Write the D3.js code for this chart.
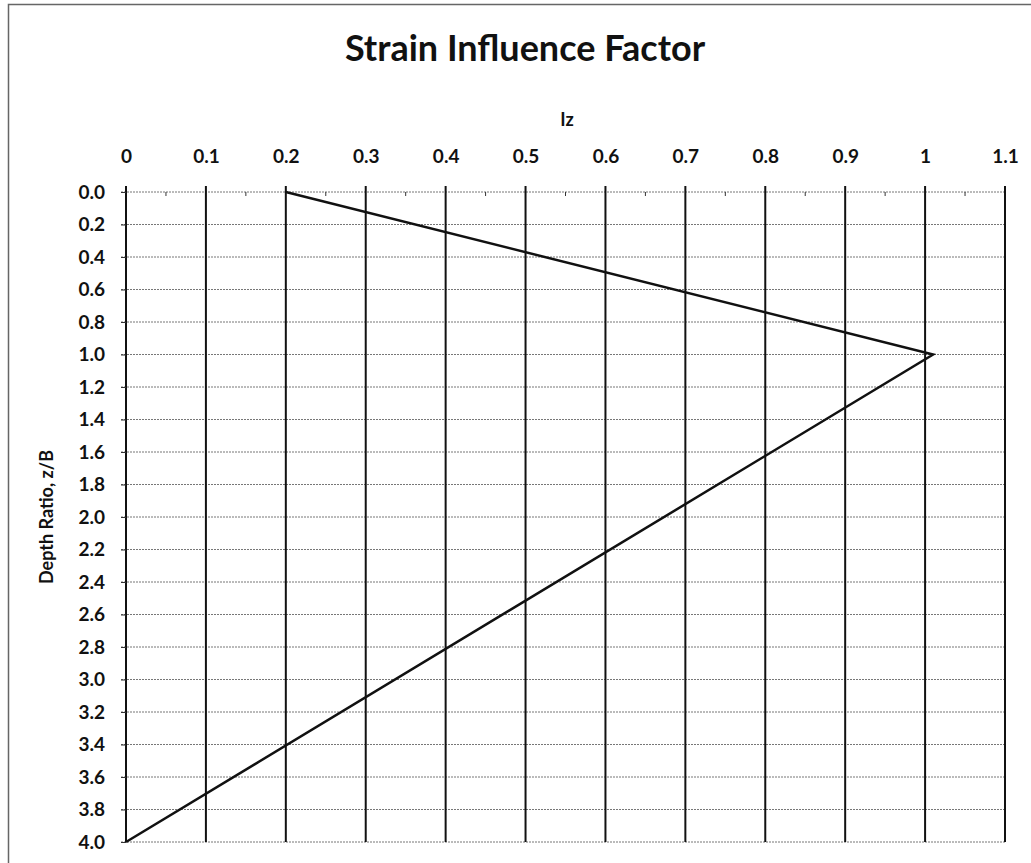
<!doctype html>
<html lang="en">
<head>
  <meta charset="utf-8">
  <title>Strain Influence Factor</title>
  <style>
    body { margin:0; background:#fff; }
    svg text { font-family: Lato, "Open Sans", sans-serif; font-weight:bold; fill:#111; }
    .vgrid { stroke:#111; stroke-width:2; }
    .hgrid { stroke:#777; stroke-width:1; stroke-dasharray:2,1; }
  </style>
</head>
<body>
<svg id="chart" width="1031" height="863"></svg>

<script src="https://cdn.jsdelivr.net/npm/d3@7"></script>
<script>
// chart data
var iz = [0.2, 1.01, 0];
var depth = [0, 1.0, 4.0];
var xTicks = [0, 0.1, 0.2, 0.3, 0.4, 0.5, 0.6, 0.7, 0.8, 0.9, 1, 1.1];
var yTicks = [0, 0.2, 0.4, 0.6, 0.8, 1.0, 1.2, 1.4, 1.6, 1.8, 2.0, 2.2, 2.4, 2.6, 2.8, 3.0, 3.2, 3.4, 3.6, 3.8, 4.0];
var xMinor = [0.05, 0.15, 0.25, 0.35, 0.45, 0.55, 0.65, 0.75, 0.85, 0.95, 1.05];

var svg = d3.select("#chart");

// outer frame
svg.append("path")
  .attr("d", "M8.5,870 V4.5 H1031")
  .attr("fill", "none")
  .attr("stroke", "#666")
  .attr("stroke-width", 1.5);

var x = d3.scaleLinear().domain([0, 1.1]).range([126, 1005]);
var y = d3.scaleLinear().domain([0, 4]).range([192, 842]);

// horizontal dotted grid
svg.append("g").selectAll("line")
  .data(yTicks)
  .join("line")
  .attr("class", "hgrid")
  .attr("x1", x(0) - 5).attr("x2", x(1.1))
  .attr("y1", d => y(d)).attr("y2", d => y(d));

// vertical solid grid
svg.append("g").selectAll("line")
  .data(xTicks)
  .join("line")
  .attr("class", "vgrid")
  .attr("x1", d => x(d)).attr("x2", d => x(d))
  .attr("y1", y(0) - 6).attr("y2", y(4));

// minor ticks along the top
svg.append("g").selectAll("line")
  .data(xMinor)
  .join("line")
  .attr("stroke", "#333")
  .attr("x1", d => x(d)).attr("x2", d => x(d))
  .attr("y1", y(0)).attr("y2", y(0) + 4);

// top axis labels
var xAxis = d3.axisTop(x).tickValues(xTicks).tickFormat(d3.format("")).tickSize(0).tickPadding(29);
var gx = svg.append("g").attr("transform", "translate(0," + y(0) + ")").call(xAxis);
gx.select(".domain").remove();
gx.selectAll("text").style("font-size", "19px").attr("fill", "#111");

// left axis labels
var yAxis = d3.axisLeft(y).tickValues(yTicks).tickFormat(d3.format(".1f")).tickSize(5).tickPadding(16);
var gy = svg.append("g").attr("transform", "translate(" + x(0) + ",0)").call(yAxis);
gy.select(".domain").remove();
gy.selectAll(".tick line").attr("stroke", "#333");
gy.selectAll("text").style("font-size", "19px").attr("fill", "#111");

// the Iz curve
var pts = d3.zip(iz, depth);
svg.append("path")
  .datum(pts)
  .attr("fill", "none")
  .attr("stroke", "#111")
  .attr("stroke-width", 2.5)
  .attr("d", d3.line().x(d => x(d[0])).y(d => y(d[1])));

// titles
svg.append("text")
  .attr("x", 525).attr("y", 61)
  .attr("text-anchor", "middle")
  .style("font-size", "36px")
  .text("Strain Influence Factor");

svg.append("text")
  .attr("x", 567).attr("y", 126)
  .attr("text-anchor", "middle")
  .style("font-size", "18px")
  .text("Iz");

svg.append("text")
  .attr("transform", "translate(53," + (y(2)) + ") rotate(-90)")
  .attr("text-anchor", "middle")
  .style("font-size", "18px")
  .text("Depth Ratio, z/B");
</script>
</body>
</html>
